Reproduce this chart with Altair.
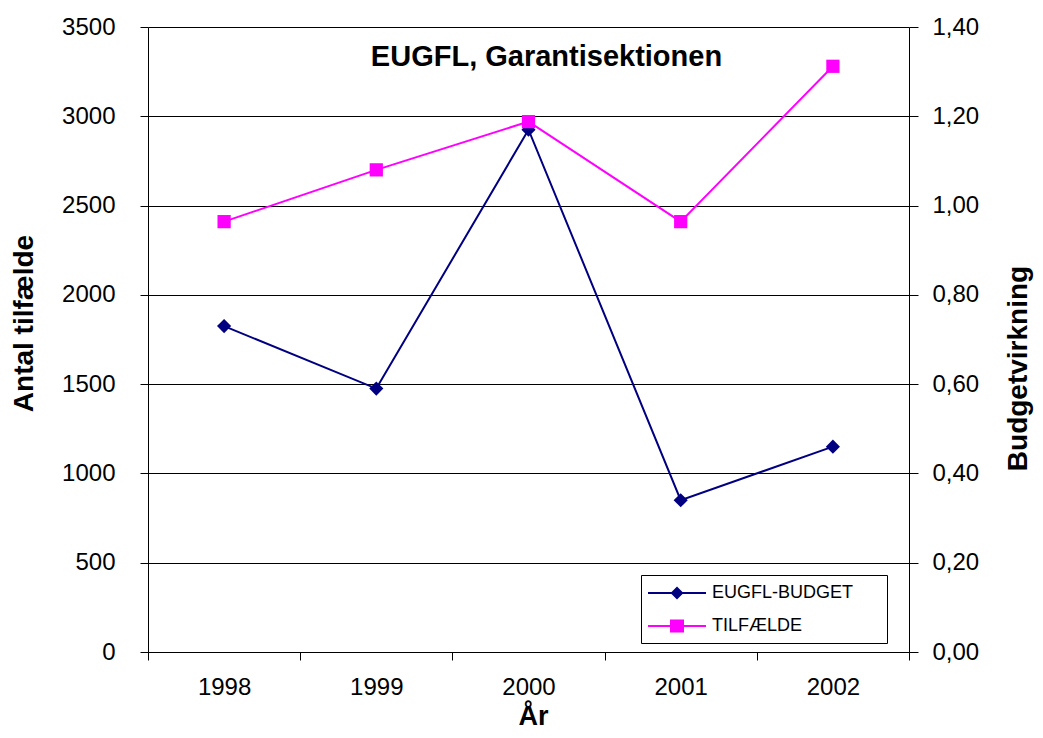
import altair as alt
import pandas as pd

years = ["1998", "1999", "2000", "2001", "2002"]
tilfaelde = [2410, 2700, 2970, 2410, 3280]
budget = [0.73, 0.59, 1.17, 0.34, 0.46]
series = ["EUGFL-BUDGET", "TILFÆLDE"]
left_ticks = [0, 500, 1000, 1500, 2000, 2500, 3000, 3500]
right_ticks = [0.0, 0.2, 0.4, 0.6, 0.8, 1.0, 1.2, 1.4]

NAVY = "#000080"
MAGENTA = "#FF00FF"
FONT = "Liberation Sans"

df = pd.DataFrame({"year": years, "tilfaelde": tilfaelde, "budget": budget})
legend_df = pd.DataFrame({"series": series})

x_axis = alt.Axis(
    title="År", labelAngle=0, tickBand="extent", grid=False,
    tickSize=8, labelPadding=15, labelFontSize=24,
    titleFontSize=27, titleFontWeight="bold", titleX=385, titleY=72,
    titleBaseline="alphabetic", titleAlign="center",
)
x_enc = alt.X("year:O", scale=alt.Scale(type="band", paddingInner=0, paddingOuter=0), axis=x_axis)

y_left = alt.Y(
    "tilfaelde:Q",
    scale=alt.Scale(domain=[0, 3500]),
    axis=alt.Axis(
        orient="left", values=left_ticks, format="d", title="Antal tilfælde",
        grid=True, gridColor="black", gridWidth=1, gridOpacity=1,
        tickSize=8, labelPadding=25, labelFontSize=24, labelOverlap=False,
        titleFontSize=28, titleFontWeight="bold", titleAngle=270,
        titleX=-124, titleY=296, titleAlign="center", titleBaseline="middle",
    ),
)
y_right = alt.Y(
    "budget:Q",
    scale=alt.Scale(domain=[0, 1.4]),
    axis=alt.Axis(
        orient="right", values=right_ticks, grid=False,
        labelExpr="replace(format(datum.value, '.2f'), '.', ',')",
        tickSize=9, labelPadding=14, labelFontSize=24, labelOverlap=False,
        title="Budgetvirkning", titleFontSize=28, titleFontWeight="bold",
        titleAngle=270, titleX=109, titleY=341, titleAlign="center",
        titleBaseline="middle",
    ),
)

budget_layer = alt.Chart(df).mark_line(
    color=NAVY, strokeWidth=2,
    point=alt.OverlayMarkDef(shape="diamond", filled=True, size=200, color=NAVY, opacity=1),
).encode(x=x_enc, y=y_right)

tilf_layer = alt.Chart(df).mark_line(
    color=MAGENTA, strokeWidth=2,
    point=alt.OverlayMarkDef(shape="square", filled=True, size=175, color=MAGENTA, opacity=1),
).encode(x=x_enc, y=y_left)

diamond_sym = "M-1.1,-0.1H4.7V0.1H-1.1Z M1.15,0L1.8,-0.65L2.45,0L1.8,0.65Z M22,0"
square_sym = "M-1.1,-0.1H4.7V0.1H-1.1Z M1.1,-0.65H2.5V0.65H1.1Z M22,0"

leg = alt.Legend(
    title=None, orient="none", legendX=493, legendY=548, direction="vertical",
    padding=8, strokeColor="black", fillColor="white", cornerRadius=0,
    symbolSize=400, symbolStrokeWidth=0, labelFontSize=18, labelFont=FONT,
    labelColor="black", labelOffset=43, rowPadding=14,
)

legend_layer = alt.Chart(legend_df).transform_filter("false").mark_point(
    filled=True, opacity=1
).encode(
    color=alt.Color("series:N", scale=alt.Scale(domain=series, range=[NAVY, MAGENTA]), legend=leg),
    shape=alt.Shape("series:N", scale=alt.Scale(domain=series, range=[diamond_sym, square_sym]), legend=leg),
)

chart = alt.layer(budget_layer, tilf_layer, legend_layer).resolve_scale(
    y="independent"
).properties(
    width=761, height=625,
    padding={"left": 140, "top": 19, "right": 126, "bottom": 78},
    autosize=alt.AutoSizeParams(type="none"),
    title=alt.TitleParams(
        "EUGFL, Garantisektionen", fontSize=29, fontWeight="bold", font=FONT,
        anchor="middle", frame="group", dx=18, dy=80, offset=0,
        baseline="alphabetic", color="black",
    ),
).configure(font=FONT).configure_view(stroke="transparent").configure_axis(
    labelFont=FONT, titleFont=FONT, labelColor="black", titleColor="black",
    domainColor="black", tickColor="black", domainWidth=1, tickWidth=1,
)

chart.save("out.html", embed_options={"renderer": "svg", "actions": False})
